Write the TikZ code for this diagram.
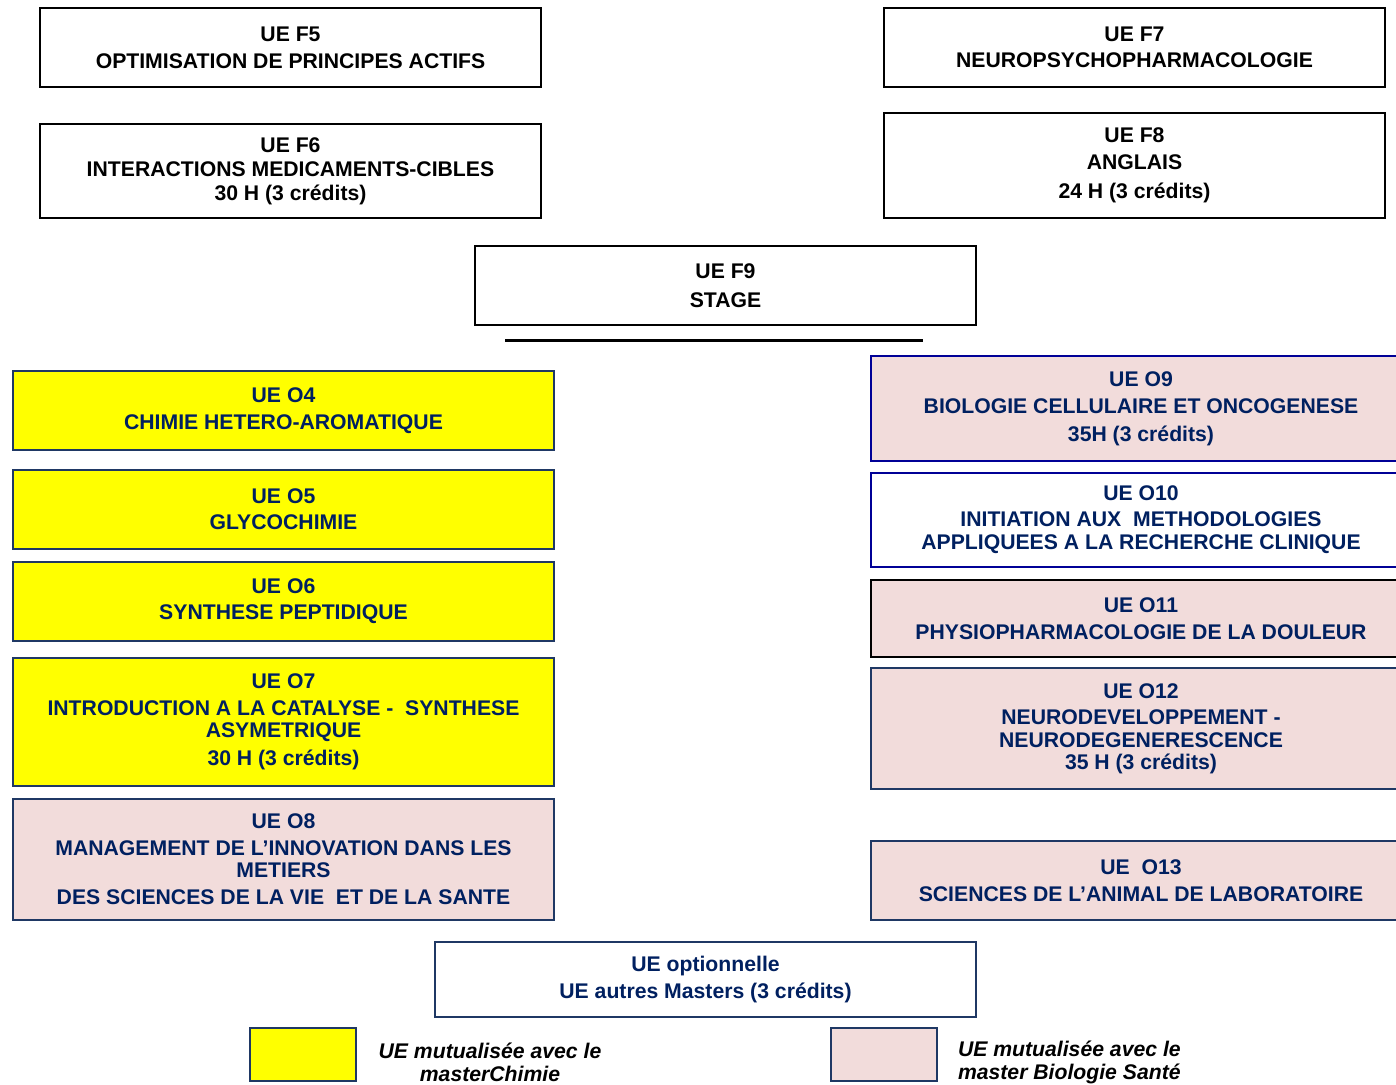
\documentclass[tikz,border=0pt]{standalone}
\usepackage{fontspec}
\setmainfont{Liberation Sans}
\usetikzlibrary{positioning}
\definecolor{navy}{RGB}{0,32,96}
\definecolor{navyline}{RGB}{31,56,100}
\definecolor{blueline}{RGB}{0,0,150}
\definecolor{pinkfill}{RGB}{242,220,219}
\definecolor{yelfill}{RGB}{255,255,0}

\begin{document}
\begin{tikzpicture}[
            x=1pt, y=-1pt,
            every node/.style={font=\fontsize{21.2}{24}\selectfont\bfseries, align=center, inner sep=0pt, outer sep=0pt},
            fbox/.style={draw=black, line width=1.6pt, fill=white, text=black, minimum width=501pt},
            obox/.style={draw=navyline, line width=1.6pt, text=navy, minimum width=541pt},
            yel/.style={obox, fill=yelfill},
            pink/.style={obox, fill=pinkfill},
            legend/.style={font=\fontsize{21.2}{24}\selectfont\bfseries\itshape, text=black}
        ]
        \clip (0,0) rectangle (1396,1084);

        % Draw fundamental units %
        \node[fbox, minimum height=79pt, anchor=north west] (F5) at (40,8) {UE F5\\[3pt] OPTIMISATION DE PRINCIPES ACTIFS};
        \node[fbox, minimum height=94pt, below=37pt of F5] (F6) {UE F6\\ INTERACTIONS MEDICAMENTS-CIBLES\\ 30 H (3 crédits)};
        \node[fbox, minimum height=79pt, anchor=north west] (F7) at (884,8) {UE F7\\[2pt] NEUROPSYCHOPHARMACOLOGIE};
        \node[fbox, minimum height=105pt, below=26pt of F7] (F8) {UE F8\\[3pt] ANGLAIS\\[5pt] 24 H (3 crédits)};
        \node[fbox, minimum height=79pt, anchor=north west] (F9) at (475,246) {UE F9\\[5pt] STAGE};
        \draw[line width=3pt] (505,340) -- (923,340);

        % Draw optional units (left) %
        \node[yel, minimum height=79pt, anchor=north west] (O4) at (13,371) {UE O4\\[3pt] CHIMIE HETERO-AROMATIQUE};
        \node[yel, minimum height=79pt, below=20pt of O4] (O5) {UE O5\\[2pt] GLYCOCHIMIE};
        \node[yel, minimum height=79pt, below=13pt of O5] (O6) {UE O6\\[2pt] SYNTHESE PEPTIDIQUE};
        \node[yel, minimum height=128pt, below=17pt of O6] (O7) {UE O7\\[3pt] INTRODUCTION A LA CATALYSE -\ \ SYNTHESE\\[-2pt] ASYMETRIQUE\\[4pt] 30 H (3 crédits)};
        \node[pink, minimum height=121pt, below=13pt of O7] (O8) {UE O8\\[3pt] MANAGEMENT DE L’INNOVATION DANS LES\\[-2pt] METIERS\\[3pt] DES SCIENCES DE LA VIE\ \ ET DE LA SANTE};

        % Draw optional units (right) %
        \node[pink, draw=blueline, minimum width=540pt, minimum height=105pt, anchor=north west] (O9) at (871,356) {UE O9\\[3pt] BIOLOGIE CELLULAIRE ET ONCOGENESE\\[4pt] 35H (3 crédits)};
        \node[obox, draw=blueline, fill=white, minimum width=540pt, minimum height=94pt, below=12pt of O9] (O10) {UE O10\\[2pt] INITIATION AUX\ \ METHODOLOGIES\\[-1pt] APPLIQUEES A LA RECHERCHE CLINIQUE};
        \node[pink, draw=black, minimum width=540pt, minimum height=77pt, below=13pt of O10] (O11) {UE O11\\[3pt] PHYSIOPHARMACOLOGIE DE LA DOULEUR};
        \node[pink, minimum width=540pt, minimum height=121pt, below=11pt of O11] (O12) {UE O12\\[2pt] NEURODEVELOPPEMENT -\\[-1pt] NEURODEGENERESCENCE\\[-2pt] 35 H (3 crédits)};
        \node[pink, minimum width=540pt, minimum height=79pt, below=52pt of O12] (O13) {UE\ \ O13\\[3pt] SCIENCES DE L’ANIMAL DE LABORATOIRE};

        % Draw free option %
        \node[obox, fill=white, minimum height=75pt, anchor=north west] (opt) at (435,942) {UE optionnelle\\[3pt] UE autres Masters (3 crédits)};

        % Legend %
        \node[yel, minimum width=106pt, minimum height=53pt, anchor=north west] (keyC) at (250,1028) {};
        \node[pink, minimum width=106pt, minimum height=53pt, anchor=north west] (keyB) at (831,1028) {};
        \node[legend] (txtC) at (490,1062) {UE mutualisée avec le\\[-1pt] masterChimie};
        \node[legend, align=left, anchor=west] (txtB) at (958,1062) {UE mutualisée avec le\\[-1pt] master Biologie Santé};
        \end{tikzpicture}
\end{document}
